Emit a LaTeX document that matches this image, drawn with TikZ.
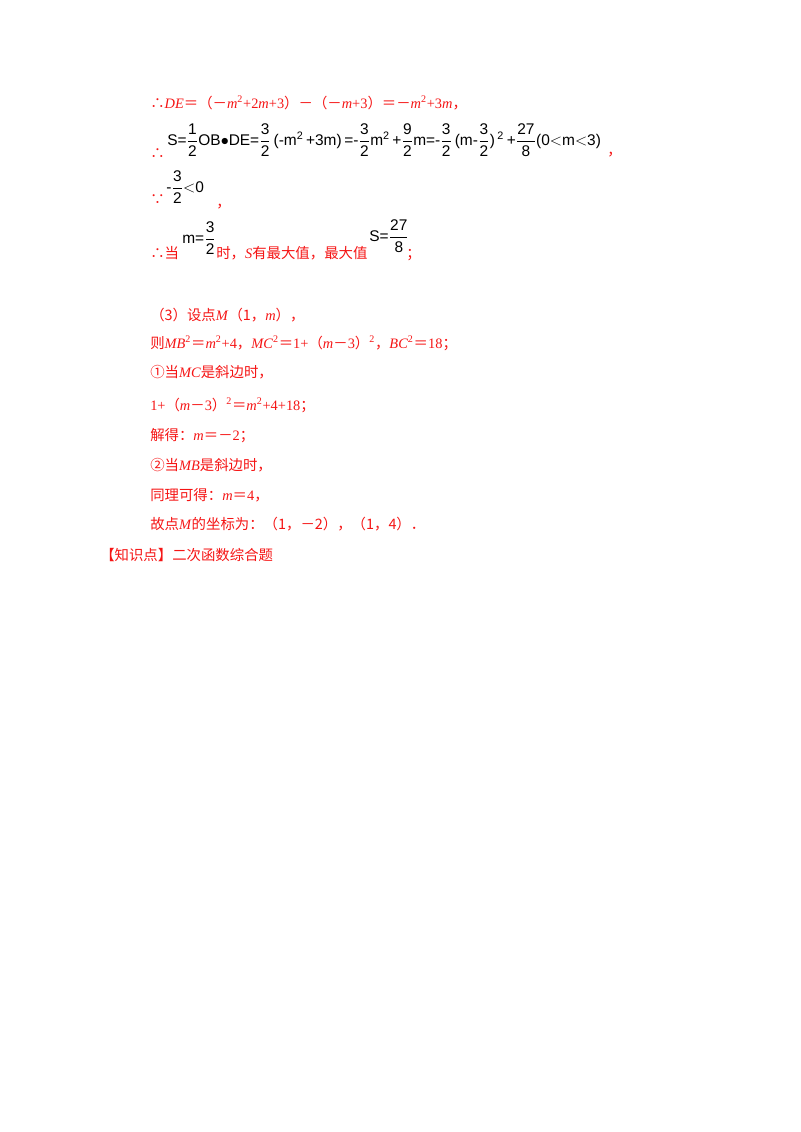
\documentclass[tikz,border=0pt]{standalone}
\usepackage{amsmath}
\usepackage{fontspec}
\setmainfont{Liberation Serif}
\newfontfamily\cjk{Noto Sans CJK SC}
\newfontfamily\fs{Liberation Sans}
\definecolor{rd}{RGB}{245,20,20}
\newcommand{\mi}{\textit{m}}
\newcommand{\fr}[2]{$\dfrac{\text{#1}}{\text{#2}}$}
\newcommand{\sq}{\textsuperscript{2}}
\tikzset{ln/.style={anchor=base west,inner sep=0pt,font=\fontsize{10.8}{13}\selectfont,text=rd},
fm/.style={anchor=west,inner sep=0pt,font=\fs\fontsize{11.6}{13}\selectfont,text=black}}
\begin{document}
\begin{tikzpicture}[x=0.75pt,y=-0.75pt]
\useasboundingbox (0,0) rectangle (800,1132);
\node[ln] (l1) at (150,108) {{\cjk ∴}\textit{DE}{\cjk ＝（－}\mi\sq+2\mi+3{\cjk ）－（－}\mi+3{\cjk ）＝－}\mi\sq+3\mi{\cjk ，}};
\node[ln] (t2) at (150,158) {\cjk ∴};
\node[fm] (f2) at (167,140) {S=\fr{1}{2}OB$\bullet$DE=\fr{3}{2}\,(-m\textsuperscript{2}\,+3m)\,=-\fr{3}{2}m\textsuperscript{2}\,+\fr{9}{2}m=-\fr{3}{2}\,(m-\fr{3}{2})\,\textsuperscript{2}\,+\fr{27}{8}(0$<$m$<$3)};
\node[ln] (c2) at (607,155) {\cjk ，};
\node[ln] (t3) at (150,204) {\cjk ∵};
\node[fm] (f3) at (166,187) {-\fr{3}{2}$<$0};
\node[ln] (c3) at (216,207) {\cjk ，};
\node[ln] (l4) at (150,258) {\cjk ∴当};
\node[fm] (f4) at (182,238) {m=\fr{3}{2}};
\node[ln] (l4b) at (216,258) {{\cjk 时，}\textit{S}{\cjk 有最大值，最大值}};
\node[fm] (f4b) at (369,236) {S=\fr{27}{8}};
\node[ln] (l4c) at (406,258) {\cjk ；};
\node[ln] (l5) at (150,320) {{\cjk （3）设点}\textit{M}{\cjk （1，}\mi{\cjk ），}};
\node[ln] (l6) at (150,348) {{\cjk 则}\textit{MB}\sq{\cjk ＝}\mi\sq+4{\cjk ，}\textit{MC}\sq{\cjk ＝}1+{\cjk （}\mi{\cjk －}3{\cjk ）}\sq{\cjk ，}\textit{BC}\sq{\cjk ＝}18{\cjk ；}};
\node[ln] (l7) at (150,377) {{\cjk ①当}\textit{MC}{\cjk 是斜边时，}};
\node[ln] (l8) at (150,410) {1+{\cjk （}\mi{\cjk －}3{\cjk ）}\sq{\cjk ＝}\mi\sq+4+18{\cjk ；}};
\node[ln] (l9) at (150,440) {{\cjk 解得：}\mi{\cjk ＝－}2{\cjk ；}};
\node[ln] (l10) at (150,470) {{\cjk ②当}\textit{MB}{\cjk 是斜边时，}};
\node[ln] (l11) at (150,500) {{\cjk 同理可得：}\mi{\cjk ＝}4{\cjk ，}};
\node[ln] (l12) at (150,529) {{\cjk 故点}\textit{M}{\cjk 的坐标为：（1，－2），（1，4）．}};
\node[ln] (l13) at (100,560) {\cjk 【知识点】二次函数综合题};
\end{tikzpicture}
\end{document}
